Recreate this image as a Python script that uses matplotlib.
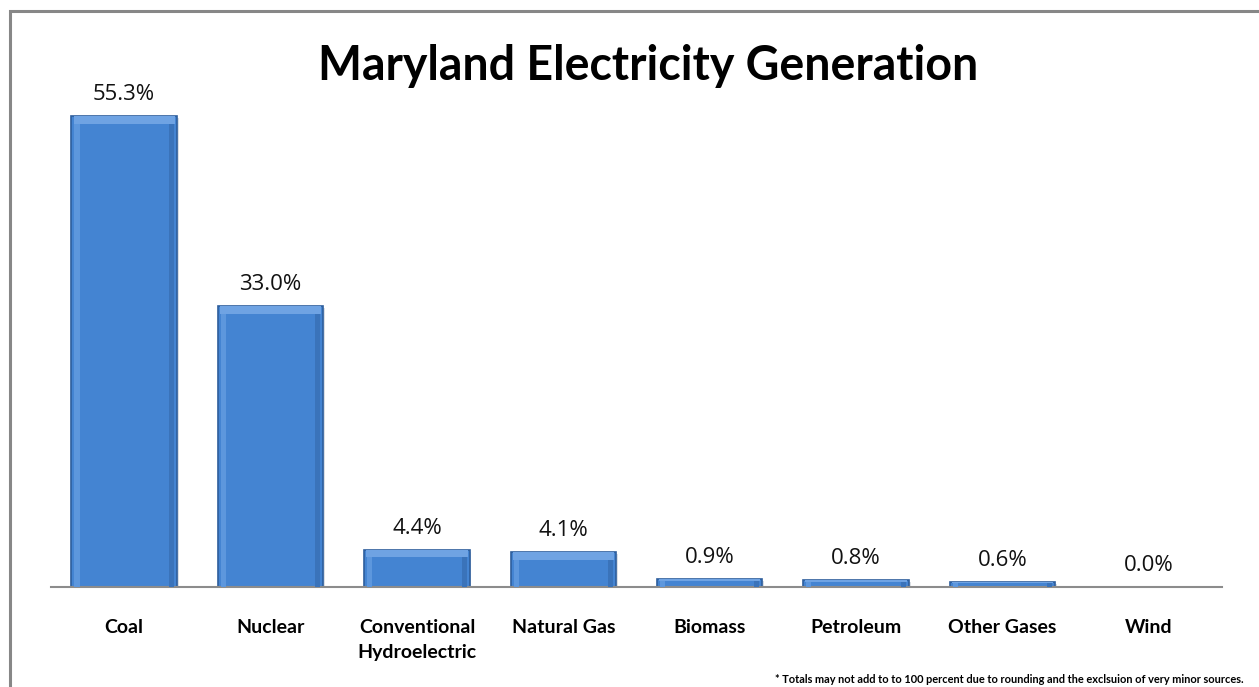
import matplotlib
matplotlib.use("Agg")
import matplotlib.pyplot as plt
from matplotlib.patches import Rectangle

categories = ["Coal", "Nuclear", "Conventional\nHydroelectric", "Natural Gas",
              "Biomass", "Petroleum", "Other Gases", "Wind"]
shares = [55.3, 33.0, 4.4, 4.1, 0.9, 0.8, 0.6, 0.0]
title = "Maryland Electricity Generation"
footnote = "* Totals may not add to to 100 percent due to rounding and the exclsuion of very minor sources."

plt.rcParams["font.family"] = ["Lato", "DejaVu Sans"]

fig = plt.figure(figsize=(12.59, 6.87), dpi=100)
fig.patch.set_facecolor("white")

# chart frame
fig.add_artist(Rectangle((10 / 1259, -0.05), 1.1, 1 - 11 / 687 + 0.05,
                         transform=fig.transFigure, fill=False,
                         edgecolor="#878787", linewidth=2.2))

ax = fig.add_axes([51 / 1259, 1 - 587 / 687, (1222 - 51) / 1259, (587 - 60) / 687])
ax.set_xlim(-0.5, len(categories) - 0.5)
ax.set_ylim(0, 61.9)

x = list(range(len(categories)))
width = 0.72
face = "#4484D2"
edge = "#2E5E9C"

# soft drop shadow
ax.bar([i + 0.012 for i in x], shares, width=width, bottom=-0.25,
       color="#9aa6b4", alpha=0.35, zorder=1, linewidth=0)
bars = ax.bar(x, shares, width=width, color=face, edgecolor=edge,
              linewidth=1.2, zorder=2)
# bevel highlight along the top and sides
for i, v in zip(x, shares):
    if v <= 0:
        continue
    hb = min(0.9, v * 0.25)
    ax.bar(i, hb, width=width * 0.96, bottom=v - hb, color="#6FA3E3",
           linewidth=0, zorder=3)
    ax.bar(i - width / 2 + 0.02, v - hb, width=0.035, bottom=0, align="edge",
           color="#5D97DD", linewidth=0, zorder=3)
    ax.bar(i + width / 2 - 0.055, v - hb, width=0.035, bottom=0, align="edge",
           color="#3A73BA", linewidth=0, zorder=3)

for i, v in zip(x, shares):
    ax.annotate(f"{v:.1f}%", (i, v), xytext=(0, 11.5), textcoords="offset points",
                ha="center", va="baseline", fontsize=16, color="#111111",
                family=["Open Sans", "DejaVu Sans"])

for s in ["top", "right", "left"]:
    ax.spines[s].set_visible(False)
ax.spines["bottom"].set_color("#8c8c8c")
ax.spines["bottom"].set_linewidth(1.5)
ax.set_yticks([])
ax.set_xticks(x)
ax.set_xticklabels(categories, fontsize=14, fontweight="bold",
                   va="top", linespacing=1.55)
ax.tick_params(axis="x", length=0, pad=23)

fig.text(648 / 1259, 1 - 80 / 687, title, ha="center", va="baseline",
         fontsize=33.5, fontweight="bold")
fig.text(1244 / 1259, 1 - 683 / 687, footnote, ha="right", va="baseline",
         fontsize=7.9, fontweight="bold")

fig.savefig("out.png", dpi=100)
